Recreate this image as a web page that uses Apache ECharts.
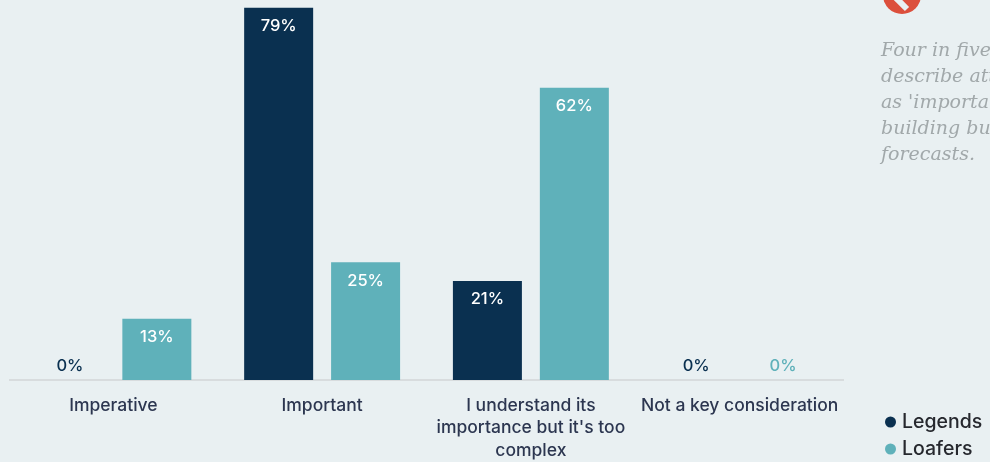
<!DOCTYPE html>
<html>
<head>
<meta charset="utf-8">
<style>html,body{margin:0;padding:0;background:#e9f0f2}#c{width:990px;height:462px}</style>
<script src="https://cdn.jsdelivr.net/npm/echarts@6/dist/echarts.min.js"></script>
</head>
<body>
<div id="c"></div>
<script>
const categories = ['Imperative', 'Important', "I understand its\nimportance but it's too\ncomplex", 'Not a key consideration'];
const legends = [0, 79, 21, 0];
const loafers = [13, 25, 62, 0];
const noteLines = ['Four in five', 'describe attitudinal data', "as 'important' when", 'building business', 'forecasts.'];

const DARK = '#0a3050';
const TEAL = '#5fb1ba';
const FONT = 'Inter, Lato, sans-serif';

// Zero bars have no height, so their labels sit above the axis in the series colour.
function points(values, colour) {
  return values.map(v => v === 0
    ? { value: v, label: { position: 'top', distance: 5, color: colour } }
    : { value: v });
}

function barSeries(name, values, colour) {
  return {
    name, type: 'bar', barWidth: 69, barGap: '26%',
    itemStyle: { color: colour },
    label: { show: true, position: 'insideTop', distance: 10, color: '#fff',
             fontFamily: FONT, fontSize: 16.5, fontWeight: 500, formatter: '{c}%' },
    data: points(values, colour)
  };
}

const chart = echarts.init(document.getElementById('c'));
chart.setOption({
  animation: false,
  backgroundColor: '#e9f0f2',
  grid: { left: 9, right: 146, top: 3, bottom: 82, outerBoundsMode: 'none' },
  xAxis: {
    type: 'category', data: categories,
    axisTick: { show: false },
    axisLine: { lineStyle: { color: '#d8dcde', width: 2, cap: 'butt' } },
    axisLabel: { interval: 0, margin: 14, color: '#2c3650', fontFamily: FONT, fontSize: 17.5, fontWeight: 500, lineHeight: 22.5 }
  },
  yAxis: { type: 'value', min: 0, max: 80, show: false },
  legend: {
    orient: 'vertical', left: 885, top: 412, padding: 0, itemGap: 7,
    itemWidth: 11, itemHeight: 11, icon: 'circle',
    textStyle: { color: '#26282e', fontFamily: FONT, fontSize: 19.5, fontWeight: 500, padding: [0, 0, 0, 1] },
    data: ['Legends', 'Loafers']
  },
  series: [barSeries('Legends', legends, DARK), barSeries('Loafers', loafers, TEAL)],
  graphic: [
    { type: 'circle', shape: { cx: 902, cy: -5, r: 19 }, style: { fill: '#dc4f3c' } },
    { type: 'line', shape: { x1: 892, y1: -6, x2: 907, y2: 9 }, style: { stroke: '#e9f0f2', lineWidth: 6 } },
    { type: 'text', left: 881, top: 38, style: {
        text: noteLines.join('\n'), fill: '#a1a8aa',
        font: 'italic 19px "DejaVu Serif", serif', lineHeight: 26
    } }
  ]
});
</script>
</body>
</html>
